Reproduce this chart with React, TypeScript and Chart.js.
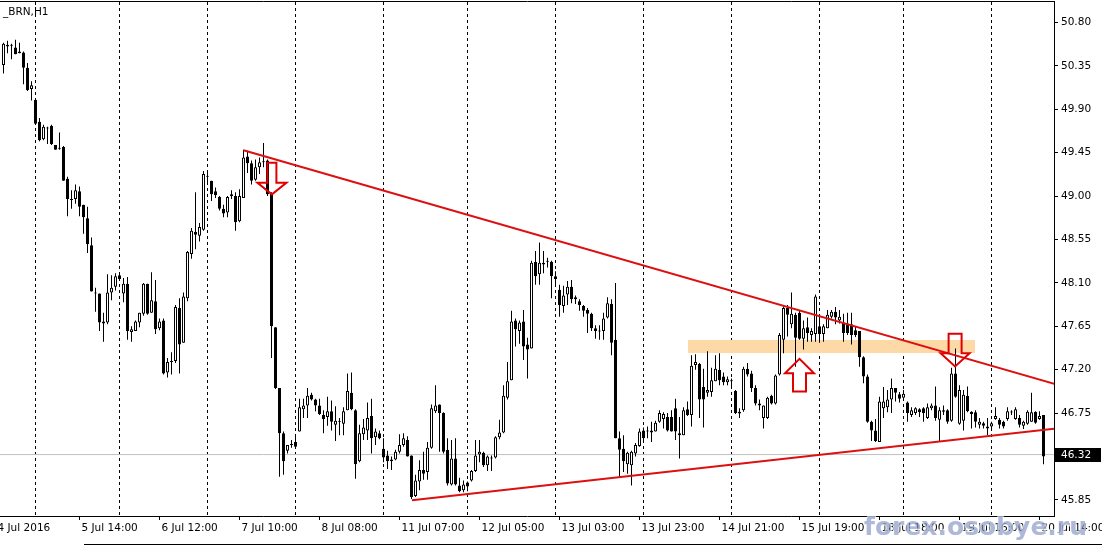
import React, { useEffect, useRef } from 'react';
import { Chart, registerables } from 'chart.js';

Chart.register(...registerables);

// ---- Data: H1 candles of _BRN, bar index 0..260 ----
const opens = [
  50.36, 50.57, 50.56, 50.54, 50.50, 50.49, 50.33, 50.11, 50.00, 49.77,
  49.59, 49.71, 49.73, 49.53, 49.50, 49.51, 49.18, 48.97, 48.97, 49.05,
  48.91, 48.77, 48.49, 48.00, 47.99, 47.68, 47.69, 48.00, 48.06, 48.18,
  47.99, 48.09, 47.59, 47.60, 47.69, 47.78, 48.09, 47.79, 47.91, 47.63,
  47.71, 47.17, 47.28, 47.29, 47.84, 47.48, 47.94, 48.40, 48.63, 48.59,
  48.65, 49.20, 49.16, 49.05, 48.99, 48.87, 48.83, 49.00, 49.00, 48.74,
  48.98, 49.41, 49.34, 49.17, 49.30, 49.35, 49.37, 49.03, 47.64, 47.01,
  46.54, 46.36, 46.42, 46.45, 46.56, 46.79, 46.83, 46.94, 46.89, 46.83,
  46.73, 46.71, 46.77, 46.63, 46.66, 46.64, 46.78, 46.96, 46.78, 46.25,
  46.53, 46.57, 46.72, 46.50, 46.54, 46.38, 46.31, 46.25, 46.27, 46.35,
  46.42, 46.47, 46.31, 45.89, 46.04, 46.16, 46.14, 46.39, 46.77, 46.84,
  46.75, 46.37, 46.01, 46.28, 46.00, 45.95, 46.03, 46.05, 46.15, 46.32,
  46.34, 46.21, 46.29, 46.29, 46.50, 46.55, 46.91, 47.09, 47.71, 47.60,
  47.70, 47.46, 47.42, 48.32, 48.19, 48.29, 48.32, 48.32, 48.17, 48.03,
  47.86, 47.98, 48.06, 47.95, 47.91, 47.86, 47.82, 47.78, 47.63, 47.60,
  47.60, 47.74, 47.88, 47.51, 46.49, 46.38, 46.22, 46.21, 46.33, 46.41,
  46.57, 46.57, 46.57, 46.56, 46.66, 46.69, 46.71, 46.71, 46.80, 46.54,
  46.52, 46.79, 46.73, 47.25, 47.26, 47.02, 46.96, 46.97, 47.08, 47.20,
  47.13, 47.07, 47.09, 46.98, 46.765, 46.78, 47.21, 47.16, 47.01, 46.85,
  46.70, 46.70, 46.93, 46.85, 47.15, 47.51, 47.84, 47.67, 47.77, 47.79,
  47.52, 47.64, 47.56, 47.57, 47.65, 47.57, 47.63, 47.75, 47.80, 47.71,
  47.69, 47.68, 47.67, 47.61, 47.60, 47.33, 47.13, 46.66, 46.57, 46.45,
  46.80, 46.81, 46.89, 47.01, 46.945, 46.91, 46.86, 46.73, 46.75, 46.79,
  46.80, 46.70, 46.80, 46.83, 46.68, 46.78, 46.78, 46.67, 47.16, 46.64,
  46.67, 46.93, 46.765, 46.76, 46.63, 46.645, 46.61, 46.61, 46.69, 46.68,
  46.66, 46.69, 46.76, 46.69, 46.70, 46.62, 46.64, 46.66, 46.765, 46.69,
  46.73,
];

const highs = [
  50.59, 50.61, 50.58, 50.62, 50.59, 50.50, 50.38, 50.19, 50.00, 49.81,
  49.74, 49.72, 49.74, 49.53, 49.66, 49.52, 49.20, 49.06, 49.12, 49.10,
  48.91, 48.89, 48.57, 48.05, 47.99, 47.79, 48.19, 48.18, 48.20, 48.20,
  48.15, 48.16, 47.65, 47.71, 47.79, 48.10, 48.09, 48.21, 48.13, 47.73,
  47.73, 47.32, 47.38, 47.87, 47.94, 48.00, 48.43, 48.67, 49.04, 48.72,
  49.26, 49.27, 49.16, 49.09, 49.00, 48.91, 49.00, 49.06, 49.04, 49.07,
  49.48, 49.47, 49.37, 49.38, 49.40, 49.55, 49.38, 49.04, 47.64, 47.01,
  46.56, 46.42, 46.47, 46.52, 46.90, 46.90, 47.01, 46.96, 46.90, 46.90,
  46.78, 46.92, 46.88, 46.82, 46.70, 46.81, 47.16, 47.17, 46.79, 46.63,
  46.69, 46.86, 46.90, 46.59, 46.57, 46.49, 46.36, 46.30, 46.37, 46.53,
  46.54, 46.51, 46.31, 46.11, 46.26, 46.35, 46.45, 46.84, 47.04, 46.84,
  46.76, 46.49, 46.47, 46.49, 46.08, 46.05, 46.04, 46.16, 46.47, 46.47,
  46.35, 46.31, 46.31, 46.51, 46.68, 47.04, 47.28, 47.81, 47.73, 47.71,
  47.82, 47.53, 48.33, 48.43, 48.52, 48.43, 48.36, 48.33, 48.22, 48.08,
  48.07, 48.12, 48.13, 47.97, 47.93, 47.87, 47.84, 47.79, 47.66, 47.66,
  47.79, 47.95, 47.93, 48.10, 46.56, 46.52, 46.35, 46.36, 46.44, 46.59,
  46.60, 46.61, 46.66, 46.67, 46.78, 46.76, 46.75, 46.78, 46.90, 46.71,
  46.81, 46.87, 47.35, 47.36, 47.27, 47.21, 47.39, 47.22, 47.35, 47.37,
  47.17, 47.13, 47.11, 46.99, 46.80, 47.23, 47.27, 47.19, 47.04, 46.89,
  46.83, 46.92, 46.94, 47.15, 47.58, 47.87, 47.87, 48.00, 47.79, 47.82,
  47.71, 47.74, 47.63, 47.98, 47.77, 47.67, 47.82, 47.82, 47.85, 47.82,
  47.78, 47.79, 47.79, 47.65, 47.60, 47.34, 47.15, 46.67, 46.69, 46.92,
  47.02, 46.99, 47.11, 47.01, 46.97, 46.99, 46.87, 46.81, 46.81, 46.80,
  46.81, 46.85, 46.85, 47.025, 46.81, 46.83, 46.79, 47.22, 47.42, 47.04,
  46.99, 47.025, 46.77, 46.78, 46.70, 46.66, 46.70, 46.66, 46.81, 46.70,
  46.67, 46.81, 46.78, 46.81, 46.73, 46.67, 46.78, 46.96, 46.77, 46.77,
  46.73,
];

const lows = [
  50.27, 50.48, 50.42, 50.47, 50.48, 50.16, 50.09, 49.99, 49.74, 49.57,
  49.58, 49.54, 49.53, 49.48, 49.48, 49.16, 48.79, 48.87, 48.92, 48.79,
  48.61, 48.41, 48.01, 47.80, 47.60, 47.49, 47.67, 47.92, 48.02, 48.12,
  47.90, 47.51, 47.49, 47.60, 47.64, 47.76, 47.77, 47.79, 47.57, 47.61,
  47.15, 47.12, 47.15, 47.27, 47.16, 47.48, 47.91, 48.35, 48.45, 48.53,
  48.64, 49.12, 48.95, 48.98, 48.85, 48.78, 48.78, 48.97, 48.64, 48.73,
  48.98, 49.24, 49.12, 49.16, 49.23, 49.30, 49.00, 47.32, 47.00, 46.09,
  46.11, 46.33, 46.39, 46.39, 46.56, 46.70, 46.70, 46.88, 46.77, 46.73,
  46.54, 46.62, 46.57, 46.46, 46.52, 46.52, 46.78, 46.78, 46.07, 46.24,
  46.47, 46.47, 46.33, 46.42, 46.48, 46.24, 46.17, 46.16, 46.26, 46.33,
  46.40, 46.30, 45.86, 45.88, 45.95, 46.06, 46.06, 46.38, 46.75, 46.35,
  46.33, 46.00, 46.00, 46.00, 45.93, 45.93, 45.94, 46.04, 46.14, 46.24,
  46.19, 46.15, 46.15, 46.28, 46.48, 46.54, 46.89, 47.09, 47.44, 47.47,
  47.30, 47.11, 47.42, 48.08, 48.08, 48.20, 48.26, 47.94, 48.08, 47.75,
  47.79, 47.87, 47.89, 47.88, 47.81, 47.75, 47.58, 47.60, 47.52, 47.51,
  47.51, 47.73, 47.35, 46.49, 46.09, 46.14, 46.12, 46.00, 46.30, 46.40,
  46.45, 46.49, 46.45, 46.56, 46.65, 46.59, 46.56, 46.56, 46.47, 46.28,
  46.52, 46.72, 46.61, 47.20, 46.70, 46.60, 46.92, 46.92, 47.08, 47.04,
  47.04, 47.04, 47.01, 46.74, 46.70, 46.765, 47.13, 46.97, 46.83, 46.78,
  46.59, 46.69, 46.84, 46.84, 47.14, 47.37, 47.545, 47.63, 47.23, 47.51,
  47.41, 47.49, 47.49, 47.49, 47.48, 47.49, 47.63, 47.73, 47.67, 47.68,
  47.49, 47.56, 47.46, 47.54, 47.23, 47.06, 46.65, 46.46, 46.45, 46.45,
  46.70, 46.76, 46.75, 46.87, 46.86, 46.91, 46.66, 46.71, 46.73, 46.71,
  46.66, 46.69, 46.78, 46.67, 46.46, 46.73, 46.64, 46.66, 46.91, 46.63,
  46.57, 46.76, 46.59, 46.60, 46.59, 46.59, 46.52, 46.59, 46.68, 46.59,
  46.59, 46.67, 46.73, 46.68, 46.60, 46.585, 46.63, 46.66, 46.64, 46.68,
  46.22,
];

const closes = [
  50.58, 50.55, 50.57, 50.47, 50.48, 50.33, 50.10, 50.15, 49.75, 49.58,
  49.72, 49.70, 49.54, 49.48, 49.49, 49.16, 48.97, 48.96, 49.06, 48.89,
  48.78, 48.50, 48.01, 47.99, 47.69, 47.70, 48.00, 48.05, 48.17, 48.14,
  48.09, 47.60, 47.62, 47.70, 47.79, 48.09, 47.78, 47.92, 47.62, 47.70,
  47.16, 47.28, 47.29, 47.85, 47.46, 47.96, 48.42, 48.64, 48.60, 48.68,
  49.23, 49.20, 49.02, 49.01, 48.87, 48.82, 48.99, 49.02, 48.73, 49.00,
  49.40, 49.34, 49.16, 49.30, 49.35, 49.36, 49.02, 47.65, 47.01, 46.54,
  46.25, 46.42, 46.43, 46.40, 46.81, 46.83, 46.93, 46.89, 46.83, 46.74,
  46.69, 46.77, 46.66, 46.67, 46.665, 46.77, 46.98, 46.79, 46.22, 46.54,
  46.60, 46.70, 46.49, 46.56, 46.49, 46.29, 46.25, 46.27, 46.35, 46.42,
  46.49, 46.30, 45.88, 46.05, 46.16, 46.12, 46.39, 46.80, 46.83, 46.75,
  46.35, 46.02, 46.28, 46.01, 45.94, 46.01, 45.99, 46.15, 46.31, 46.35,
  46.21, 46.30, 46.28, 46.50, 46.55, 46.93, 47.08, 47.70, 47.62, 47.69,
  47.44, 47.41, 48.31, 48.17, 48.31, 48.31, 48.33, 48.17, 48.14, 47.87,
  47.97, 48.06, 47.93, 47.93, 47.87, 47.81, 47.78, 47.63, 47.60, 47.597,
  47.73, 47.89, 47.48, 46.49, 46.37, 46.25, 46.34, 46.35, 46.42, 46.56,
  46.49, 46.56, 46.55, 46.65, 46.75, 46.74, 46.57, 46.56, 46.56, 46.52,
  46.78, 46.73, 47.24, 47.28, 46.89, 46.89, 46.99, 47.09, 47.21, 47.09,
  47.07, 47.10, 47.08, 46.75, 46.745, 47.21, 47.15, 47.01, 46.85, 46.83,
  46.83, 46.91, 46.85, 47.14, 47.56, 47.84, 47.77, 47.78, 47.53, 47.52,
  47.63, 47.58, 47.60, 47.96, 47.57, 47.65, 47.77, 47.80, 47.74, 47.75,
  47.58, 47.58, 47.56, 47.56, 47.33, 47.13, 46.66, 46.57, 46.46, 46.87,
  46.87, 46.89, 47.01, 46.96, 46.90, 46.95, 46.75, 46.78, 46.80, 46.76,
  46.75, 46.81, 46.83, 46.70, 46.78, 46.765, 46.66, 47.16, 46.92, 46.99,
  46.94, 46.77, 46.74, 46.66, 46.66, 46.62, 46.59, 46.645, 46.72, 46.63,
  46.61, 46.77, 46.755, 46.79, 46.63, 46.66, 46.765, 46.76, 46.65, 46.72,
  46.30,
];

// Bars where a new trading day starts (period separators)
const dayStartBars = [8, 29, 51, 73, 95, 116, 138, 160, 182, 204, 225, 247];

// Time axis labels
const timeTickBars = [-2, 19, 39, 59, 79, 99, 119, 139, 159, 179, 199, 219, 239, 259];
const timeTickLabels = [
  '4 Jul 2016', '5 Jul 14:00', '6 Jul 12:00', '7 Jul 10:00', '8 Jul 08:00',
  '11 Jul 07:00', '12 Jul 05:00', '13 Jul 03:00', '13 Jul 23:00', '14 Jul 21:00',
  '15 Jul 19:00', '18 Jul 18:00', '19 Jul 16:00', '20 Jul 14:00',
];

// Price axis labels
const priceTicks = [45.85, 46.30, 46.75, 47.20, 47.65, 48.10, 48.55, 49.00, 49.45, 49.90, 50.35, 50.80];
const currentPrice = 46.32;

// Drawn objects (bar index, price)
const upperTrend = [{ x: 60, y: 49.476 }, { x: 263, y: 47.05 }];
const lowerTrend = [{ x: 102.1, y: 45.846 }, { x: 263, y: 46.59 }];
const zoneBars = [171, 242.9];
const zonePrices = [47.371, 47.51];
const arrowBars = [67.1, 199, 237.9];
const arrowTails = [49.347, 46.973, 47.573];
const arrowNecks = [49.139, 47.163, 47.371];
const arrowTips = [49.018, 47.313, 47.233];

// ---- layout constants ----
const X_MIN = -0.875;
const X_MAX = 262.625;
const Y_MIN = 45.683;
const Y_MAX = 51.023;
const FONT = 'DejaVu Sans';
const RED = '#dc1010';

const overlayPlugin = {
  id: 'mtOverlay',
  beforeDatasetsDraw(chart: any) {
    const { ctx, chartArea, scales } = chart;
    const xs = scales.x, ys = scales.y;
    ctx.save();
    ctx.beginPath();
    ctx.rect(chartArea.left, chartArea.top, chartArea.right - chartArea.left, chartArea.bottom - chartArea.top);
    ctx.clip();
    const x1 = Math.round(xs.getPixelForValue(zoneBars[0]));
    const x2 = Math.round(xs.getPixelForValue(zoneBars[1]));
    const y1 = Math.round(ys.getPixelForValue(zonePrices[1]));
    const y2 = Math.round(ys.getPixelForValue(zonePrices[0]));
    ctx.fillStyle = 'rgb(253,217,168)';
    ctx.fillRect(x1, y1, x2 - x1, y2 - y1);
    ctx.restore();
  },
  afterDatasetsDraw(chart: any) {
    const { ctx, scales } = chart;
    const xs = scales.x, ys = scales.y;
    ctx.save();
    ctx.strokeStyle = '#e00000';
    ctx.lineWidth = 2;
    ctx.lineJoin = 'miter';
    arrowBars.forEach((b, k) => {
      const cx = xs.getPixelForValue(b);
      const shaft = k === 0 ? 4.5 : 6.5;
      const head = 14.5;
      const tail = ys.getPixelForValue(arrowTails[k]);
      const neck = ys.getPixelForValue(arrowNecks[k]);
      const tip = ys.getPixelForValue(arrowTips[k]);
      ctx.beginPath();
      ctx.moveTo(cx - shaft, tail);
      ctx.lineTo(cx + shaft, tail);
      ctx.lineTo(cx + shaft, neck);
      ctx.lineTo(cx + head, neck);
      ctx.lineTo(cx, tip);
      ctx.lineTo(cx - head, neck);
      ctx.lineTo(cx - shaft, neck);
      ctx.closePath();
      ctx.stroke();
    });
    ctx.restore();
  },
  afterDraw(chart: any) {
    const { ctx, scales, chartArea } = chart;
    const ys = scales.y;
    ctx.save();
    // current price box
    const py = ys.getPixelForValue(currentPrice);
    ctx.fillStyle = '#000';
    ctx.fillRect(chartArea.right + 1, Math.round(py) - 7, 46, 14);
    ctx.fillStyle = '#fff';
    ctx.font = `10.5px "${FONT}"`;
    ctx.textBaseline = 'middle';
    ctx.textAlign = 'left';
    ctx.fillText(currentPrice.toFixed(2), chartArea.right + 7, Math.round(py) + 0.5);
    // symbol title
    ctx.fillStyle = '#000';
    ctx.textBaseline = 'alphabetic';
    ctx.fillText('_BRN,H1', 3, 15);
    // bottom scroll line
    ctx.fillStyle = '#000';
    ctx.fillRect(84, 544, 1102 - 84, 1);
    // watermark
    ctx.font = `bold 25px "${FONT}"`;
    ctx.textBaseline = 'alphabetic';
    ctx.lineWidth = 2;
    ctx.strokeStyle = 'rgba(255,255,255,0.7)';
    ctx.strokeText('forex.osobye.ru', 864, 535);
    ctx.fillStyle = 'rgba(118,138,188,0.6)';
    ctx.fillText('forex.osobye.ru', 864, 535);
    ctx.restore();
  },
};

export default function App() {
  const ref = useRef<HTMLCanvasElement | null>(null);

  useEffect(() => {
    if (!ref.current) return;
    const bodyData = opens.map((o, i) => ({ x: i, y: [o, closes[i]] }));
    const wickData = highs.map((h, i) => ({ x: i, y: [lows[i], h] }));
    const bodyFill = opens.map((o, i) => (closes[i] > o ? '#ffffff' : '#000000'));

    const chart = new Chart(ref.current, {
      type: 'bar',
      data: {
        datasets: [
          {
            type: 'line', data: upperTrend, borderColor: RED, borderWidth: 2,
            pointRadius: 0, order: 0, clip: 0,
          } as any,
          {
            type: 'line', data: lowerTrend, borderColor: RED, borderWidth: 2,
            pointRadius: 0, order: 0, clip: 0,
          } as any,
          {
            type: 'bar', data: bodyData as any, backgroundColor: bodyFill, borderColor: '#000',
            borderWidth: 1, borderSkipped: false, grouped: false, barPercentage: 1,
            categoryPercentage: 1, maxBarThickness: 3, minBarLength: 1, inflateAmount: 0, order: 1,
          } as any,
          {
            type: 'bar', data: wickData as any, backgroundColor: '#000', borderWidth: 0,
            grouped: false, barPercentage: 1, categoryPercentage: 1, maxBarThickness: 1,
            inflateAmount: 0, order: 2,
          } as any,
          {
            type: 'line', data: [{ x: X_MIN, y: currentPrice }, { x: X_MAX, y: currentPrice }],
            borderColor: '#c0c0c0', borderWidth: 1, pointRadius: 0, order: 3, clip: 0,
          } as any,
        ],
      },
      options: {
        responsive: false,
        maintainAspectRatio: false,
        devicePixelRatio: 1,
        animation: false,
        events: [],
        layout: { padding: { top: 1, left: 0, right: 0, bottom: 0 } },
        plugins: { legend: { display: false }, tooltip: { enabled: false }, title: { display: false } },
        scales: {
          x: {
            type: 'linear', position: 'bottom', min: X_MIN, max: X_MAX, offset: false,
            afterBuildTicks: (s: any) => { s.ticks = timeTickBars.map((v) => ({ value: v })); },
            afterFit: (s: any) => { s.height = 30; s.paddingLeft = 0; s.paddingRight = 0; },
            ticks: {
              autoSkip: false, maxRotation: 0, minRotation: 0, align: 'start', labelOffset: 2,
              padding: 2, color: '#000', font: { family: FONT, size: 10.5 },
              callback: (_v: any, idx: number) => timeTickLabels[idx],
            },
            grid: { offset: false, drawOnChartArea: false, drawTicks: true, tickLength: 4, color: '#000' },
            border: { display: true, color: '#000' },
          },
          x2: {
            type: 'linear', position: 'top', min: X_MIN, max: X_MAX, offset: false,
            afterBuildTicks: (s: any) => { s.ticks = dayStartBars.map((v) => ({ value: v })); },
            afterFit: (s: any) => { s.height = 0; s.paddingLeft = 0; s.paddingRight = 0; },
            ticks: { display: false },
            grid: { offset: false, drawOnChartArea: true, drawTicks: false, color: '#000', lineWidth: 1 },
            border: { display: true, color: '#000', dash: [3, 3] },
          },
          y: {
            type: 'linear', position: 'right', min: Y_MIN, max: Y_MAX,
            afterBuildTicks: (s: any) => { s.ticks = priceTicks.map((v) => ({ value: v })); },
            afterFit: (s: any) => { s.width = 48; s.paddingTop = 0; s.paddingBottom = 0; },
            ticks: {
              padding: 3, color: '#000', font: { family: FONT, size: 10.5 },
              callback: (v: any) => Number(v).toFixed(2),
            },
            grid: { drawOnChartArea: false, drawTicks: true, tickLength: 4, color: '#000' },
            border: { display: true, color: '#000' },
          },
        },
      } as any,
      plugins: [overlayPlugin],
    });
    return () => chart.destroy();
  }, []);

  return (
    <div style={{ position: 'absolute', left: 0, top: 0, width: 1102, height: 546, background: '#fff' }}>
      <canvas ref={ref} width={1102} height={546} style={{ display: 'block', width: 1102, height: 546 }} />
    </div>
  );
}
